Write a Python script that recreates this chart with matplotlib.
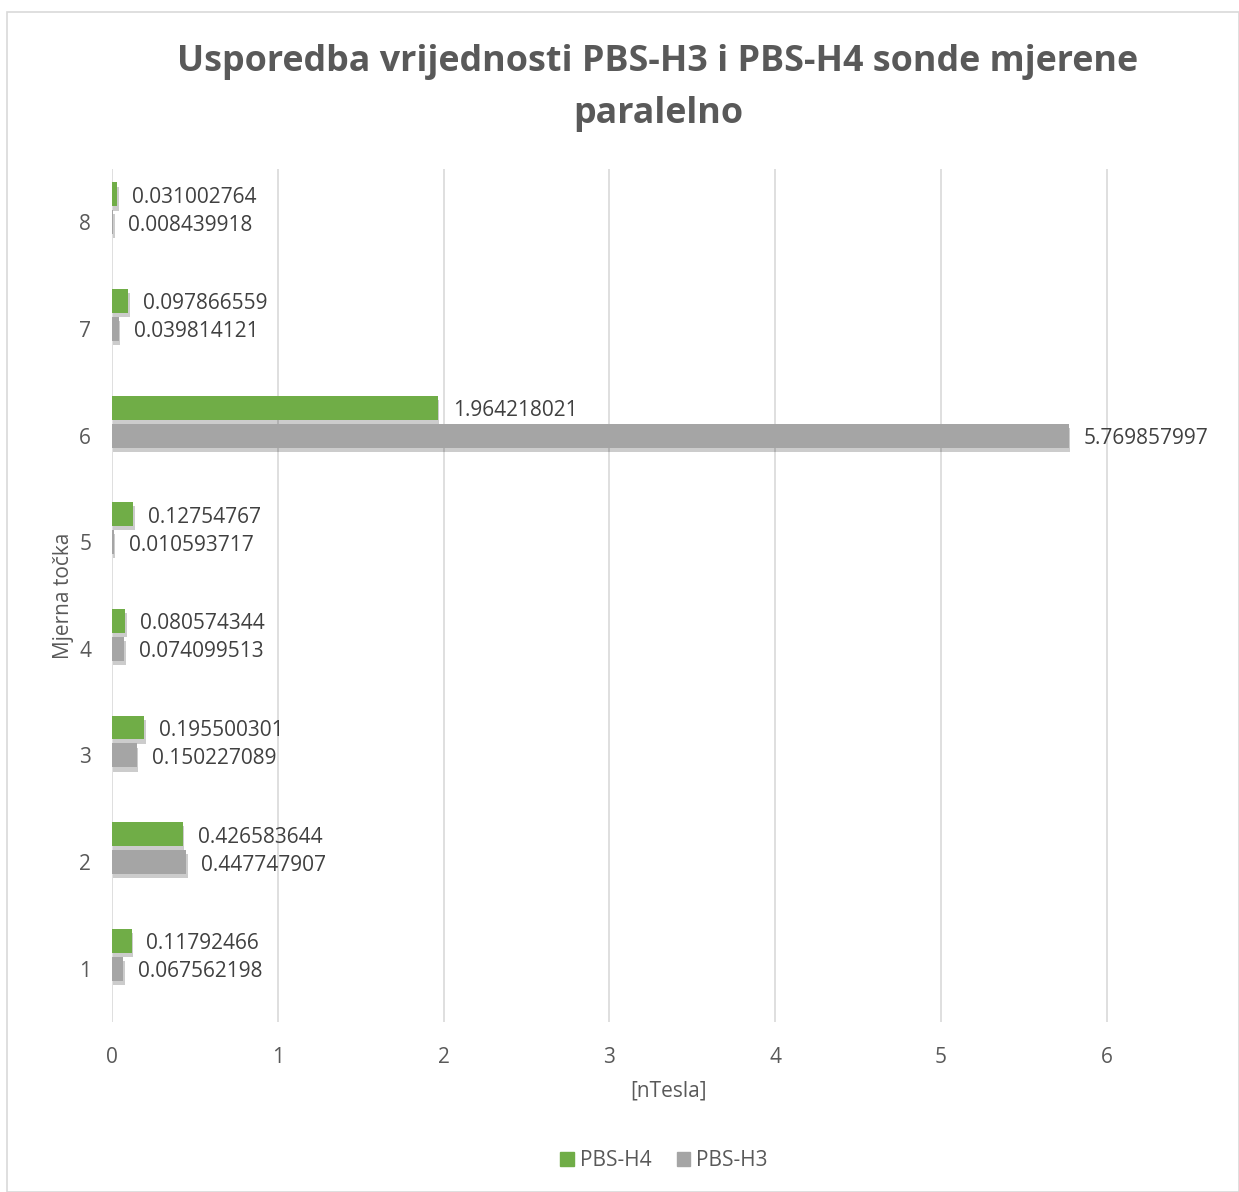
import matplotlib
matplotlib.use("Agg")
import matplotlib.pyplot as plt
import matplotlib.patheffects as pe
from matplotlib.patches import Patch
import numpy as np

categories = ["1", "2", "3", "4", "5", "6", "7", "8"]
pbs_h4 = [0.11792466, 0.426583644, 0.195500301, 0.080574344, 0.12754767, 1.964218021, 0.097866559, 0.031002764]
pbs_h3 = [0.067562198, 0.447747907, 0.150227089, 0.074099513, 0.010593717, 5.769857997, 0.039814121, 0.008439918]
h4_labels = ["0.11792466", "0.426583644", "0.195500301", "0.080574344", "0.12754767", "1.964218021", "0.097866559", "0.031002764"]
h3_labels = ["0.067562198", "0.447747907", "0.150227089", "0.074099513", "0.010593717", "5.769857997", "0.039814121", "0.008439918"]
x_ticks = [0, 1, 2, 3, 4, 5, 6]

plt.rcParams['font.family'] = ['Open Sans', 'DejaVu Sans']
txt = '#595959'
green = '#70AD47'
gray = '#A5A5A5'
fs = 15

W, H = 1239, 1192
fig = plt.figure(figsize=(W/100, H/100), dpi=100)
fig.patches.append(plt.Rectangle((7/W, 0), 1 - 7/W, 1 - 12/H, transform=fig.transFigure,
                                  fill=False, edgecolor='#D9D9D9', linewidth=1.2))

left, right, bottom, top = 112, 1225, 1022, 169
ax = fig.add_axes([left/W, 1 - bottom/H, (right-left)/W, (bottom-top)/H])

y = np.arange(1, len(categories) + 1)
bh = 0.225
shadow = [pe.SimplePatchShadow(offset=(1, -3), shadow_rgbFace='#000000', alpha=0.2), pe.Normal()]
b4 = ax.barh(y + 0.262, pbs_h4, height=bh, color=green, label='PBS-H4', zorder=3)
b3 = ax.barh(y, pbs_h3, height=bh, color=gray, label='PBS-H3', zorder=3)
for b in list(b4) + list(b3):
    b.set_path_effects(shadow)

for yi, v, s in zip(y, pbs_h4, h4_labels):
    ax.text(v + 0.09, yi + 0.262 - 0.028, s, va='center', ha='left', fontsize=fs, color='#404040', zorder=4)
for yi, v, s in zip(y, pbs_h3, h3_labels):
    ax.text(v + 0.09, yi - 0.028, s, va='center', ha='left', fontsize=fs, color='#404040', zorder=4)

ax.set_xlim(0, (right-left)/165.8)
ax.set_ylim(0.5, 8.5)
ax.set_xticks(x_ticks)
ax.set_xticklabels([str(t) for t in x_ticks])
ax.set_yticks(y)
ax.set_yticklabels(categories)
ax.tick_params(length=0, labelsize=fs, labelcolor=txt)
ax.tick_params(axis='x', pad=18)
ax.tick_params(axis='y', pad=15)
ax.grid(axis='x', color='#D9D9D9', linewidth=1.2, zorder=0)
for s in ax.spines.values():
    s.set_visible(False)

ax.set_xlabel('[nTesla]', fontsize=fs, color=txt, labelpad=9)
ax.set_ylabel('Mjerna točka', fontsize=fs, color=txt, labelpad=4)

fig.text(658/W, 1 - 88/H, 'Usporedba vrijednosti PBS-H3 i PBS-H4 sonde mjerene\nparalelno',
         ha='center', va='center', fontsize=25.8, fontweight='bold', color=txt, linespacing=1.6)

handles = [Patch(color=green), Patch(color=gray)]
fig.legend(handles=handles, labels=['PBS-H4', 'PBS-H3'], loc='center', bbox_to_anchor=(664/W, 1 - 1161/H),
           ncol=2, frameon=False, fontsize=fs, labelcolor=txt, handlelength=0.65, handleheight=0.65,
           handletextpad=0.3, columnspacing=1.2)

fig.savefig('out.png', dpi=100)
